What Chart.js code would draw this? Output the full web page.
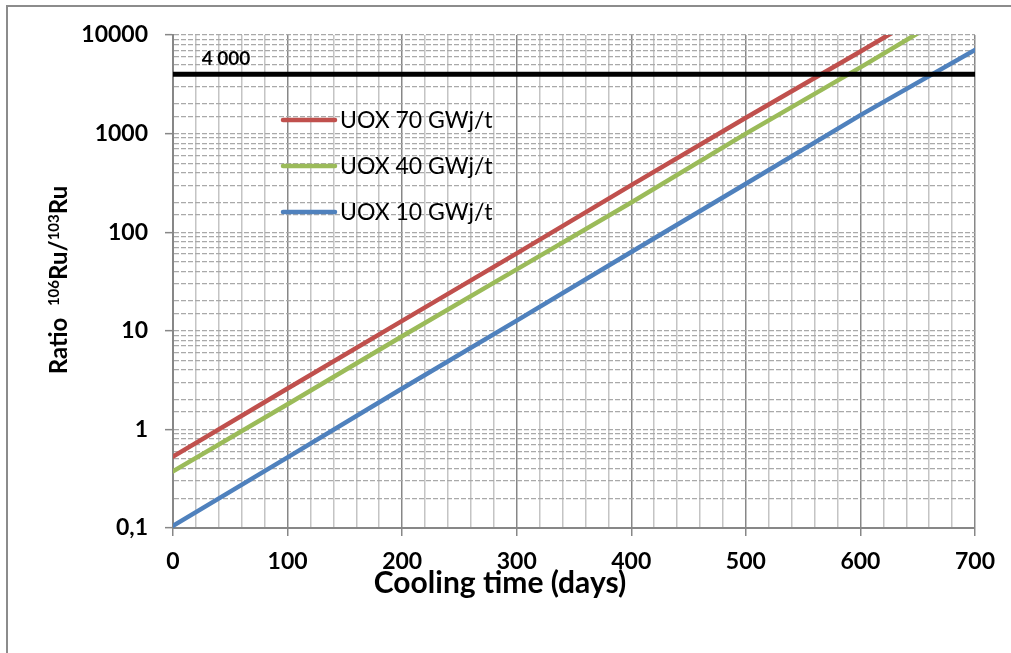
<!DOCTYPE html>
<html>
<head>
<meta charset="utf-8">
<script src="https://cdn.jsdelivr.net/npm/chart.js@4.4.1/dist/chart.umd.min.js"></script>
<style>
  html, body { margin: 0; padding: 0; background: #fff; }
  canvas { display: block; }
</style>
</head>
<body>
<canvas id="ratioChart" width="1011" height="653"></canvas>
<script>
// Values
const days = [0, 100, 200, 300, 400, 500, 600, 700];
const uox70 = [0.53, 2.6, 12.6, 61, 300, 1450, 6800, 33000];
const uox40 = [0.375, 1.8, 8.8, 42, 200, 1000, 4700, 23000];
const uox10 = [0.105, 0.52, 2.6, 12.7, 63, 310, 1540, 7050];
const limitDays = [0, 700];
const limitValue = [4000, 4000];
const seriesLabels = ['UOX 70 GWj/t', 'UOX 40 GWj/t', 'UOX 10 GWj/t'];
const seriesColors = ['#C0504D', '#9BBB59', '#4F81BD'];
const yDecades = [0.1, 1, 10, 100, 1000, 10000];

const pts = (xs, ys) => xs.map((x, i) => ({ x: x, y: ys[i] }));

const isDecade = v => yDecades.some(d => Math.abs(v - d) < d * 1e-6);

// background, outer frame, titles, legend, "4 000" label
const decorPlugin = {
  id: 'decor',
  beforeDraw(chart) {
    const ctx = chart.ctx;
    ctx.save();
    ctx.fillStyle = '#fff';
    ctx.fillRect(0, 0, chart.width, chart.height);
    ctx.strokeStyle = '#8c8c8c';
    ctx.lineWidth = 2;
    ctx.strokeRect(7, 6, 1100, 1000);
    ctx.restore();
  },
  afterDraw(chart) {
    const ctx = chart.ctx;
    const x = chart.scales.x, y = chart.scales.y;
    ctx.save();
    ctx.fillStyle = '#000';

    // 4 000 label
    ctx.font = 'bold 19px Lato';
    ctx.textAlign = 'left';
    ctx.textBaseline = 'alphabetic';
    ctx.fillText('4 000', x.getPixelForValue(25), y.getPixelForValue(4000) - 9);

    // x title
    ctx.font = 'bold 30px Lato';
    ctx.textAlign = 'center';
    ctx.fillText('Cooling time (days)', 500, 593);

    // y title with superscripts
    const parts = [
      ['Ratio  ', 'bold 24px Lato', 0],
      ['106', 'bold 15px Lato', -8],
      ['Ru/', 'bold 24px Lato', 0],
      ['103', 'bold 15px Lato', -8],
      ['Ru', 'bold 24px Lato', 0]
    ];
    let total = 0;
    parts.forEach(p => { ctx.font = p[1]; total += ctx.measureText(p[0]).width; });
    ctx.translate(67, 280);
    ctx.rotate(-Math.PI / 2);
    ctx.textAlign = 'left';
    let pos = -total / 2;
    parts.forEach(p => {
      ctx.font = p[1];
      ctx.fillText(p[0], pos, p[2]);
      pos += ctx.measureText(p[0]).width;
    });
    ctx.setTransform(1, 0, 0, 1, 0, 0);

    // legend inside the plot
    const rows = [120, 166, 212];
    ctx.font = '23px Lato';
    ctx.textBaseline = 'middle';
    ctx.lineCap = 'round';
    seriesLabels.forEach((lab, i) => {
      ctx.strokeStyle = seriesColors[i];
      ctx.lineWidth = 4.5;
      ctx.beginPath();
      ctx.moveTo(283, rows[i]);
      ctx.lineTo(335, rows[i]);
      ctx.stroke();
      ctx.fillStyle = '#000';
      ctx.fillText(lab, 340, rows[i] + 1);
    });
    ctx.restore();
  }
};

const ctx = document.getElementById('ratioChart').getContext('2d');
new Chart(ctx, {
  type: 'line',
  data: {
    datasets: [{
      label: '4000',
      data: pts(limitDays, limitValue),
      borderColor: '#000',
      borderWidth: 5,
      pointRadius: 0,
      order: 0
    }, {
      label: seriesLabels[0],
      data: pts(days, uox70),
      borderColor: seriesColors[0],
      borderWidth: 4.5,
      pointRadius: 0,
      borderCapStyle: 'round',
      order: 1
    }, {
      label: seriesLabels[1],
      data: pts(days, uox40),
      borderColor: seriesColors[1],
      borderWidth: 4.5,
      pointRadius: 0,
      borderCapStyle: 'round',
      order: 1
    }, {
      label: seriesLabels[2],
      data: pts(days, uox10),
      borderColor: seriesColors[2],
      borderWidth: 4.5,
      pointRadius: 0,
      borderCapStyle: 'round',
      order: 1
    }]
  },
  options: {
    responsive: false,
    animation: false,
    devicePixelRatio: 1,
    layout: { padding: { left: 0, right: 36, top: 35, bottom: 0 } },
    plugins: {
      legend: { display: false },
      tooltip: { enabled: false }
    },
    scales: {
      x: {
        type: 'linear',
        min: 0,
        max: 700,
        afterFit: s => { s.height = 125; },
        ticks: {
          stepSize: 20,
          autoSkip: false,
          maxRotation: 0,
          padding: 12,
          color: '#000',
          font: { family: 'Lato', weight: 'bold', size: 23 },
          callback: v => (v % 100 === 0 ? v : '')
        },
        grid: {
          color: c => (c.tick && c.tick.value % 100 === 0 ? '#878787' : '#c4c4c4'),
          lineWidth: 1.5,
          tickLength: 8,
          tickWidth: 1.5,
          tickColor: c => (c.tick && c.tick.value % 100 === 0 ? '#878787' : 'rgba(0,0,0,0)')
        },
        border: { color: '#878787', width: 2 }
      },
      y: {
        type: 'logarithmic',
        min: 0.1,
        max: 10000,
        afterFit: s => { s.width = 173; },
        ticks: {
          autoSkip: false,
          padding: 17,
          color: '#000',
          font: { family: 'Lato', weight: 'bold', size: 23 },
          callback: v => (isDecade(v) ? String(v).replace('.', ',') : '')
        },
        grid: {
          color: '#a9a9a9',
          lineWidth: 1.3,
          tickLength: 8,
          tickWidth: 1.5,
          tickBorderDash: [],
          tickColor: c => (c.tick && isDecade(c.tick.value) ? '#878787' : 'rgba(0,0,0,0)')
        },
        border: { color: '#878787', width: 2, dash: [5, 2] }
      }
    }
  },
  plugins: [decorPlugin]
});
</script>
</body>
</html>
